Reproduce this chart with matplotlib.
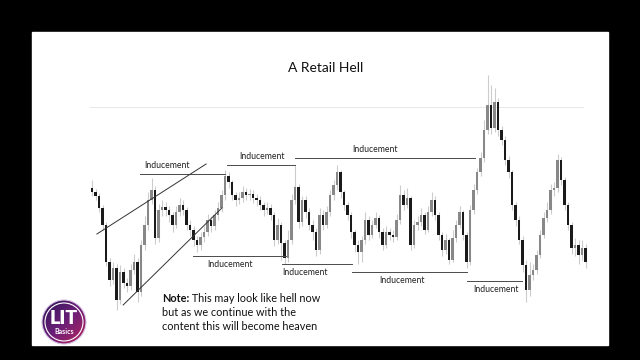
import numpy as np
import matplotlib.pyplot as plt
from matplotlib.patches import Circle, Rectangle
from matplotlib.colors import LinearSegmentedColormap

plt.rcParams['font.family'] = ['Lato', 'DejaVu Sans']

# candle data (price units), one candle per bar
opens = [132, 128, 124, 112, 95, 58, 40, 52, 20, 48, 37, 34, 50, 58, 28, 75, 95, 120, 130, 82,
         110, 113, 110, 105, 95, 108, 115, 110, 95, 90, 80, 75, 83, 88, 100, 94, 105, 112, 125, 144,
         138, 125, 120, 122, 128, 125, 126, 122, 120, 115, 110, 112, 105, 80, 95, 77, 62, 80, 120, 133,
         98, 120, 108, 95, 88, 70, 105, 95, 108, 125, 135, 148, 128, 115, 105, 88, 75, 68, 80, 100,
         85, 95, 102, 88, 75, 88, 85, 83, 100, 125, 115, 122, 75, 95, 98, 105, 90, 108, 120, 105,
         85, 70, 80, 60, 82, 95, 108, 85, 58, 110, 130, 148, 162, 190, 215, 192, 218, 190, 180, 160,
         148, 115, 100, 80, 55, 30, 45, 50, 65, 85, 102, 110, 130, 132, 160, 140, 115, 95, 72, 75,
         65, 72]
closes = [128, 124, 112, 95, 58, 40, 52, 20, 48, 37, 34, 50, 58, 28, 75, 95, 120, 130, 82, 110,
          113, 110, 105, 95, 108, 115, 110, 95, 90, 80, 75, 83, 88, 100, 94, 105, 112, 125, 144, 138,
          125, 120, 122, 128, 125, 126, 122, 120, 115, 110, 112, 105, 80, 95, 77, 62, 80, 120, 133, 98,
          120, 108, 95, 88, 70, 105, 95, 108, 125, 135, 148, 128, 115, 105, 88, 75, 68, 80, 100, 85,
          95, 102, 88, 75, 88, 85, 83, 100, 125, 115, 122, 75, 95, 98, 105, 90, 108, 120, 105, 85,
          70, 80, 60, 82, 95, 108, 85, 58, 110, 130, 148, 162, 190, 215, 192, 218, 190, 180, 160, 148,
          115, 100, 80, 55, 30, 45, 50, 65, 85, 102, 110, 130, 132, 160, 140, 115, 95, 72, 75, 65,
          72, 58]
highs = [140, 131, 127, 115, 98, 62, 58, 56, 55, 52, 42, 56, 66, 62, 80, 104, 128, 142, 134, 116,
         120, 118, 114, 108, 114, 122, 120, 113, 100, 94, 84, 88, 94, 106, 104, 110, 118, 130, 150, 148,
         140, 128, 128, 134, 132, 131, 130, 126, 124, 118, 118, 116, 108, 102, 98, 80, 90, 126, 155, 136,
         124, 124, 112, 100, 92, 112, 110, 114, 130, 140, 155, 150, 130, 118, 108, 90, 80, 84, 108, 104,
         100, 108, 105, 92, 94, 92, 90, 106, 135, 130, 132, 124, 100, 104, 112, 108, 114, 128, 124, 108,
         88, 86, 82, 90, 100, 114, 110, 88, 115, 136, 152, 168, 200, 245, 235, 232, 222, 194, 184, 164,
         150, 118, 104, 84, 60, 58, 56, 70, 90, 108, 118, 136, 138, 166, 163, 143, 118, 98, 82, 80,
         80, 76]
lows = [124, 120, 108, 90, 54, 34, 36, 10, 16, 32, 28, 30, 46, 18, 24, 70, 90, 116, 76, 78,
        104, 104, 98, 88, 92, 104, 105, 90, 84, 74, 68, 70, 78, 84, 88, 90, 100, 108, 120, 132,
        120, 114, 116, 118, 120, 120, 117, 114, 110, 104, 106, 100, 74, 76, 60, 56, 58, 76, 116, 92,
        94, 102, 90, 80, 64, 66, 90, 92, 104, 120, 130, 122, 110, 100, 82, 68, 56, 58, 76, 80,
        82, 92, 82, 70, 72, 80, 78, 80, 96, 110, 112, 70, 72, 90, 94, 86, 88, 104, 100, 80,
        64, 66, 56, 58, 78, 92, 80, 52, 55, 106, 126, 144, 158, 186, 186, 188, 184, 175, 155, 142,
        110, 94, 76, 48, 18, 24, 40, 46, 62, 82, 98, 106, 124, 128, 135, 110, 90, 66, 64, 56,
        60, 52]

# "Inducement" levels: start bar, end bar, price, label bar, label side
ind_start = [13.7, 38.6, 58.0, 28.9, 54.3, 74.3, 107.1]
ind_end = [38.0, 58.0, 109.4, 55.4, 74.3, 107.1, 122.9]
ind_price = [146, 155, 162, 64, 56, 48, 39]
ind_label_x = [21.4, 48.6, 80.9, 39.4, 60.9, 88.6, 115.4]
ind_above = [True, True, True, False, False, False, False]

# channel lines (bar, price)
upper_x = [1.4, 32.6]
upper_y = [86, 156]
lower_x = [8.9, 37.1]
lower_y = [15, 112]
high_level = 213

fig = plt.figure(figsize=(6.4, 3.6), dpi=100, facecolor='black')

# white slide area
bg = fig.add_axes([0, 0, 1, 1])
bg.set_xlim(0, 640)
bg.set_ylim(360, 0)
bg.axis('off')
bg.add_patch(Rectangle((32, 32), 576, 313, color='white', zorder=0))

ax = fig.add_axes([80 / 640, 40 / 360, 520 / 640, 260 / 360])
ax.set_xlim(-3.43, 145.14)
ax.set_ylim(0, 260)
ax.axis('off')
ax.patch.set_alpha(0)

x = np.arange(len(closes))
o = np.array(opens)
c = np.array(closes)
ax.vlines(x, lows, highs, color='#cccccc', lw=0.8, zorder=2)
up = c >= o
bottoms = np.minimum(o, c)
heights = np.maximum(np.abs(c - o), 1.5)
ax.bar(x[up], heights[up], bottom=bottoms[up], width=0.8, color='#888888', zorder=3)
ax.bar(x[~up], heights[~up], bottom=bottoms[~up], width=0.8, color='#1a1a1a', zorder=3)

ax.plot([-0.6, 140.3], [high_level, high_level], color='#e8e8e8', lw=0.7, zorder=1)

for xs, xe, p, lx, above in zip(ind_start, ind_end, ind_price, ind_label_x, ind_above):
    ax.plot([xs, xe], [p, p], color='#4a4a4a', lw=0.7, zorder=4)
    ax.annotate('Inducement', xy=(lx, p), xytext=(0, 3 if above else -3),
                textcoords='offset points', ha='center',
                va='bottom' if above else 'top', fontsize=6.2, color='#222222')

ax.plot(upper_x, upper_y, color='#333333', lw=0.7, zorder=4)
ax.plot(lower_x, lower_y, color='#333333', lw=0.7, zorder=4)

# title and note
bg.text(326, 68, 'A Retail Hell', ha='center', va='center', fontsize=10, color='#111111')
note = bg.text(162, 298, 'Note:', ha='left', va='center', fontsize=7.8,
               fontweight='bold', color='#111111')
bg.annotate(' This may look like hell now', xy=(1, 0.5), xycoords=note,
            ha='left', va='center', fontsize=7.8, color='#111111')
bg.text(162, 313, 'but as we continue with the', ha='left', va='center',
        fontsize=7.8, color='#111111')
bg.text(162, 327, 'content this will become heaven', ha='left', va='center',
        fontsize=7.8, color='#111111')

# logo: gradient disc with white ring
logo_cmap = LinearSegmentedColormap.from_list('lit', ['#2e1456', '#6a1f78', '#b8245c'])
gx, gy = np.meshgrid(np.linspace(0, 1, 60), np.linspace(0, 1, 60))
disc = Circle((64, 322), 22, transform=bg.transData)
img = bg.imshow((gx + gy) / 2, cmap=logo_cmap, extent=(42, 86, 344, 300),
                zorder=5, interpolation='bilinear')
img.set_clip_path(disc)
bg.set_xlim(0, 640)
bg.set_ylim(360, 0)
bg.set_aspect('auto')
bg.add_patch(Circle((64, 322), 22, fill=False, ec='#d9c6e6', lw=0.8, zorder=6))
bg.add_patch(Circle((64, 322), 19, fill=False, ec='white', lw=0.8, zorder=6))
bg.text(64, 318, 'LIT', ha='center', va='center', fontsize=14, fontweight='heavy',
        color='white', zorder=7)
bg.text(64, 332, 'Basics', ha='center', va='center', fontsize=5, fontweight='bold',
        color='white', zorder=7)

fig.savefig('out.png', dpi=100, facecolor='black')
